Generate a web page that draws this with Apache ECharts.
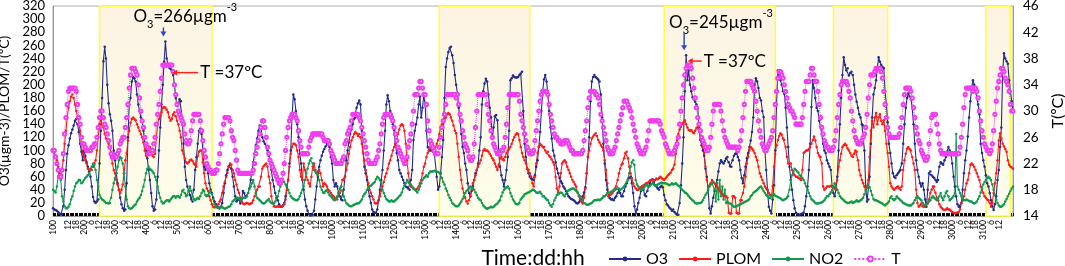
<!DOCTYPE html>
<html>
<head>
<meta charset="utf-8">
<script src="https://cdn.jsdelivr.net/npm/echarts@6/dist/echarts.min.js"></script>
<style>
  html, body { margin: 0; padding: 0; background: #fff; }
  #chart { width: 1065px; height: 266px; }
</style>
</head>
<body>
<div id="chart"></div>
<script>
// hourly readings, one row per day (1..31), hours 00..23
const days = [1,2,3,4,5,6,7,8,9,10,11,12,13,14,15,16,17,18,19,20,21,22,23,24,25,26,27,28,29,30,31];
const hours = [0,1,2,3,4,5,6,7,8,9,10,11,12,13,14,15,16,17,18,19,20,21,22,23];

// O3 (µg m-3)
const o3 = [
  [12,10,9,8,6,4,2,3,15,40,70,95,108,118,126,132,138,145,148,140,128,110,98,85],
  [100,92,82,75,68,60,45,29,22,20,22,25,80,130,180,236,258,240,200,172,155,145,130,100],
  [85,65,50,40,28,18,12,8,10,50,120,170,180,205,212,210,205,185,170,160,150,145,130,110],
  [100,88,70,55,35,15,8,10,25,60,100,135,170,200,235,266,240,230,226,224,222,215,200,180],
  [168,172,178,175,150,110,75,55,45,38,32,25,22,40,70,90,110,130,133,125,100,75,70,80],
  [65,50,40,35,28,22,18,15,13,12,14,20,35,50,62,70,76,78,72,60,45,30,22,25],
  [25,19,25,38,35,30,30,35,42,55,68,82,95,108,118,130,138,134,120,114,110,106,100,92],
  [85,70,55,45,35,28,24,18,14,14,16,20,30,45,55,80,100,150,185,178,160,140,120,95],
  [80,55,40,25,15,8,3,1,1,2,8,25,45,60,75,85,92,98,102,106,110,112,105,90],
  [80,55,45,50,45,35,30,25,24,40,60,85,100,112,125,132,140,148,150,165,172,176,170,130],
  [96,75,65,55,40,30,20,10,6,5,5,10,24,40,55,70,100,130,170,184,175,160,155,140],
  [131,110,96,85,70,65,60,55,50,45,44,42,40,55,70,116,130,140,150,170,182,150,165,185],
  [170,130,105,100,100,100,100,98,96,60,40,45,65,90,116,180,227,240,250,256,258,245,233,215],
  [200,187,165,146,125,105,96,80,70,50,35,30,38,45,55,65,70,80,100,120,170,190,202,209],
  [205,185,165,150,118,135,152,154,146,96,75,62,55,45,55,70,90,130,207,210,214,212,211,211],
  [212,215,217,220,160,110,90,72,65,60,57,56,55,62,75,85,105,128,160,190,208,215,205,185],
  [160,135,118,100,92,82,72,65,58,53,50,45,42,38,34,30,28,26,25,24,22,20,19,21],
  [24,26,30,36,44,65,90,120,175,205,212,215,212,210,208,205,185,150,110,80,55,40,30,27],
  [25,26,24,28,30,35,40,35,30,30,38,45,50,55,58,60,50,35,15,4,10,20,28,38],
  [45,40,32,30,38,45,50,55,56,52,47,45,42,40,44,46,44,32,24,18,16,13,11,8],
  [10,6,4,2,2,20,47,80,120,190,245,207,222,200,190,181,178,174,170,165,135,116,108,100],
  [92,72,60,40,12,4,15,28,38,48,55,68,80,85,82,80,84,88,90,82,76,75,85,92],
  [95,96,90,85,70,58,50,62,75,88,96,105,115,128,150,200,210,205,195,180,176,160,151,100],
  [70,40,14,8,4,25,47,100,170,222,215,207,200,190,186,165,135,105,75,55,40,24,12,5],
  [3,2,2,3,4,5,15,30,45,70,110,166,207,195,180,165,160,145,136,125,110,100,96,85],
  [80,75,70,45,35,30,40,60,100,140,180,215,242,230,222,225,214,218,220,215,200,185,174,165],
  [155,150,140,138,100,45,22,25,60,110,150,185,195,207,225,242,235,230,227,225,190,170,143,110],
  [96,80,65,60,58,62,65,68,70,80,110,140,165,180,187,182,178,165,140,110,85,70,60,50],
  [45,50,40,25,14,40,65,68,62,60,58,55,52,55,75,82,80,78,85,90,98,105,100,95],
  [80,60,45,30,18,14,14,20,40,65,85,100,121,150,175,195,207,200,190,180,170,155,110,96],
  [85,75,62,50,45,35,24,15,9,18,30,55,70,105,135,220,248,240,236,232,207,190,175,161]
].flat();

// PLOM
const plom = [
  [100,97,92,85,75,65,60,62,85,110,130,150,165,175,182,185,180,170,160,150,140,130,110,95],
  [90,85,80,72,70,72,70,75,80,85,100,120,140,148,140,135,125,118,116,110,105,95,80,70],
  [65,55,48,40,35,40,48,65,85,96,115,130,142,148,150,148,146,140,135,130,125,120,112,100],
  [92,95,100,105,98,92,90,95,120,140,148,152,158,165,166,165,162,158,150,145,148,155,158,152],
  [145,140,130,120,100,95,88,82,80,82,85,86,84,80,78,75,92,98,100,100,82,65,50,42],
  [38,30,24,18,14,13,14,15,18,22,25,35,45,52,60,66,75,80,78,70,65,55,48,40],
  [35,28,22,19,18,19,20,19,18,19,20,24,30,35,40,45,45,60,72,76,78,80,75,60],
  [50,30,20,15,14,14,15,14,15,14,16,18,25,40,55,75,95,105,110,110,108,100,90,70],
  [60,55,80,70,60,55,50,45,60,75,80,70,65,68,70,65,55,45,50,48,45,40,38,35],
  [32,30,28,26,25,30,35,45,55,55,60,70,80,95,105,115,120,125,128,126,122,125,120,110],
  [96,85,70,60,50,40,35,30,25,20,19,20,24,30,38,45,52,60,65,72,80,85,92,100],
  [105,110,116,125,132,138,140,138,130,110,85,65,50,45,44,42,40,40,42,45,50,55,65,75],
  [80,90,96,100,105,102,98,100,105,110,116,125,135,140,145,148,150,155,157,155,150,145,138,130],
  [126,110,90,70,55,42,35,28,22,19,24,30,40,50,55,62,70,75,80,85,92,100,102,100],
  [100,98,95,92,88,85,80,75,70,78,88,90,86,85,90,96,100,102,105,110,116,120,124,126],
  [125,116,105,96,90,85,80,72,70,65,60,50,45,60,80,96,105,110,108,105,105,100,96,98],
  [92,90,86,82,78,60,42,36,45,65,80,83,85,82,75,70,65,60,55,52,48,45,36,30],
  [25,22,19,28,42,65,90,100,110,118,121,124,126,122,116,112,108,105,100,85,70,50,30,32],
  [33,35,38,42,45,55,65,72,78,80,88,96,98,88,75,65,58,50,45,42,40,40,42,44],
  [45,47,48,50,50,52,54,55,55,53,55,57,56,58,60,58,56,55,57,60,62,64,66,70],
  [72,78,95,116,125,132,136,140,143,146,140,135,131,130,131,128,126,130,134,136,130,121,115,105],
  [96,75,55,45,45,50,55,52,50,48,45,42,38,35,33,30,30,30,28,5,4,4,30,30],
  [28,5,4,4,24,24,35,45,60,80,90,100,105,103,100,96,90,85,75,65,60,55,50,45],
  [42,40,35,32,30,45,75,95,108,116,122,126,124,118,116,105,90,80,80,80,70,65,62,60],
  [60,58,57,55,70,96,98,100,100,102,105,110,116,121,115,105,96,92,90,80,45,40,42,45],
  [45,45,46,45,44,42,40,55,75,85,95,105,108,110,108,103,100,96,92,90,95,100,98,85],
  [70,62,55,50,45,40,45,55,90,130,145,135,150,157,140,150,155,145,140,146,130,110,96,75],
  [50,45,42,40,42,44,45,42,40,45,70,85,95,103,105,102,100,90,80,70,40,20,14,16],
  [19,15,14,14,18,19,25,35,40,45,45,35,28,24,18,14,12,10,9,10,12,10,10,8],
  [6,5,4,5,5,6,10,19,24,30,40,50,55,65,78,80,78,75,70,65,60,55,45,40],
  [35,30,28,25,24,20,14,20,35,50,65,85,115,126,118,110,106,102,98,85,78,75,74,72]
].flat();

// NO2
const no2 = [
  [40,38,36,45,60,70,55,30,22,15,12,12,14,18,25,30,38,45,50,52,55,55,50,52],
  [55,58,60,62,65,70,75,80,78,70,55,45,32,28,25,24,22,20,20,19,20,28,40,50],
  [58,65,75,85,90,88,80,65,45,25,15,12,11,12,14,16,18,22,25,28,32,38,45,55],
  [65,72,75,72,70,68,65,60,55,45,35,28,22,19,20,22,24,24,22,25,28,30,30,28],
  [30,30,28,32,38,40,35,30,32,38,45,38,30,26,24,26,28,26,30,35,40,38,32,30],
  [32,36,38,34,26,18,15,13,12,12,13,14,12,11,12,13,14,15,18,22,24,26,28,28],
  [26,25,26,27,28,28,30,35,42,45,50,55,45,35,28,26,24,22,20,19,20,22,24,26],
  [22,20,19,19,22,26,30,38,45,52,55,52,48,45,40,35,30,28,26,25,24,24,26,30],
  [35,40,45,55,65,72,80,85,88,80,70,68,65,62,55,45,40,36,35,38,40,36,32,30],
  [28,25,24,26,30,35,42,45,38,30,24,20,18,16,15,15,16,17,18,19,19,20,22,25],
  [30,33,36,40,42,45,46,48,50,52,56,60,58,55,50,40,35,30,26,24,22,22,24,22],
  [22,24,26,28,30,32,36,42,46,50,55,52,50,48,45,42,40,38,36,40,45,50,55,58],
  [60,62,60,65,68,68,68,69,68,68,67,66,64,58,52,48,42,38,32,28,24,20,18,16],
  [15,15,16,19,22,26,30,35,38,40,42,45,44,42,40,36,32,28,25,24,20,16,14,12],
  [11,12,13,14,13,14,16,18,19,22,24,30,36,40,42,44,45,42,35,30,25,22,19,18],
  [18,20,25,28,30,33,34,35,36,37,38,40,40,38,36,35,36,37,34,30,30,28,25,24],
  [20,16,14,18,24,28,32,33,35,36,35,32,30,34,38,39,40,41,42,42,40,38,36,32],
  [30,28,24,20,19,17,17,18,19,20,22,24,24,24,25,24,25,27,30,30,32,35,35,36],
  [37,38,40,40,41,42,42,40,41,43,45,48,52,55,65,75,82,85,78,55,48,45,43,40],
  [40,42,45,48,47,45,46,48,50,48,46,47,48,49,50,51,50,50,50,49,48,47,48,50],
  [48,49,50,48,46,45,42,40,38,36,35,33,30,28,26,24,22,20,19,19,20,20,21,24],
  [28,32,35,40,45,48,50,52,40,22,50,25,55,30,45,25,40,20,22,20,19,18,16,14],
  [14,15,16,17,18,19,20,21,22,23,24,26,30,32,35,37,38,40,42,44,45,42,38,35],
  [32,30,28,27,30,32,33,31,30,29,28,27,25,24,25,26,28,30,40,55,62,68,72,70],
  [68,66,62,60,58,55,50,45,40,35,30,26,24,22,20,19,19,20,20,21,22,24,27,30],
  [30,33,36,40,45,50,45,40,35,30,28,26,24,22,21,20,20,21,22,20,21,22,24,22],
  [22,24,25,28,33,38,43,45,44,38,32,26,24,24,23,22,21,20,19,17,16,18,20,22],
  [28,30,26,24,26,30,28,26,24,22,20,19,18,17,16,16,16,18,20,24,28,30,28,26],
  [24,20,17,16,18,20,22,24,28,30,28,26,24,26,30,35,28,24,30,36,38,30,24,26],
  [28,30,35,125,45,40,35,30,26,24,24,25,24,23,22,22,20,19,20,22,26,30,36,42],
  [48,52,55,58,60,58,55,48,40,32,25,20,16,14,14,16,18,22,26,30,34,38,42,45]
].flat();

// T (ºC), right axis
const temp = [
  [24,24,23,22,21,20,20,21,23.5,26.5,29,31,33,33.5,33.5,33.5,33.5,33.5,33,31,29,28,26,25],
  [25,24.5,24,24,24,24,24.5,24.5,25,25,26,27.5,29,30,30,29,28,27.5,26.5,25.5,24.5,23.5,23,23],
  [23,23,23.5,24,25,25.5,26,26,27.5,29,31,33.5,35.5,36.5,36.5,36.5,36,35.5,34,32,30,28.5,27.5,26],
  [25,24.5,23.5,23.5,24,24,25,26,28,29.5,31,33,35,37,37,37,37,37,37,37,37,36,34,32.5],
  [31,30,29.5,29,28.5,28,26.5,25.5,25,25,25.5,27,28.5,29.5,29.5,29.5,29.5,29.5,28.5,27,25.5,24,23,22],
  [21.5,21,21,20.5,20.5,20.5,21,21,22,23.5,25,26.5,28,29,29,29,29,28.5,27,26,25.5,24,22.5,21],
  [20.5,20.5,20.5,20.5,20.5,20.5,20.5,20.5,20.5,20.5,20.5,21,22,23.5,24.5,25.5,26.5,27.5,28.5,28.5,27.5,26,24.5,23.5],
  [22.5,22,21.5,21,20.5,20,19.5,19,19,19.5,20.5,22,24,26,27.5,28.5,29,29.5,29.5,29.5,29,28.5,27,25.5],
  [24.5,23.5,23.5,23.5,23.5,23.5,24.5,25.5,26,26.5,26.5,26.5,26.5,26.5,26.5,26.5,26.5,26,25.5,25.5,25.5,25.5,25,24],
  [23.5,23,22.5,22,22,22,22,22,22.5,23,25,25.5,26.5,27,27.5,28.5,29.5,29.5,29.5,29.5,29.5,29,28.5,27.5],
  [26.5,25.5,24.5,23.5,22.5,22,22,22,22,22,22.5,23,24,25,26.5,28,29,29.5,29.5,29.5,29.5,29.5,29,28.5],
  [27.5,26.5,25.5,24.5,24,23.5,23,22.5,22,22,23,24.5,25.5,26.5,28,30,32.5,32.5,32.5,33.5,34.5,34.5,33.5,32.5],
  [32.5,31,28.5,27,25.5,25,24.5,24,23.5,23.5,23.5,24.5,26,27.5,28.5,29.5,31,32.5,32.5,32.5,32.5,32.5,32.5,32.5],
  [32,32.5,31,29.5,28.5,27,26,25,24.5,24,23,22.5,22.5,23,25,27.5,30,32.5,32.5,32.5,32.5,32.5,32.5,32.5],
  [31,29.5,28.5,27,26,25,24.5,24,23.5,23.5,23.5,24,24,24.5,26,28,30.5,32.5,32.5,32.5,32.5,32.5,32.5,32.5],
  [32.5,31.5,29.5,28.5,27.5,26.5,25.5,24.5,24,23.5,23.5,23.5,24,25.5,27,28.5,30,31.5,32.5,33,33,33,33,32.5],
  [31,29.5,28.5,27.5,26.5,26,26,25.5,25.5,25,25,25,25.5,25.5,25.5,25,24.5,24,24,23.5,23.5,23.5,23.5,23.5],
  [23.5,23.5,24,25.5,27,28.5,30.5,32,33,33,33,33,32.5,32.5,32,31,29.5,28.5,27.5,26.5,25.5,24.5,24,23.5],
  [23.5,23.5,24,24.5,25.5,26.5,27.5,28.5,29.5,30.5,31.5,31.5,31.5,31,30.5,30,29,28,27,26,25,24.5,24,23.5],
  [23.5,23.5,24,24.5,25.5,27,28.5,28.5,28.5,28.5,28.5,28.5,28.5,28.5,28,27,26.5,26,25,24.5,24,23.5,23.5,23.5],
  [23.5,24,24.5,25,26,28,30,32,34,35.5,36.5,37,37,37,36.5,35,33.5,32,30.5,29,28,27,26,25.5],
  [25,24.5,24,24,24.5,26,28,30,31,31,31,31,31,30,28.5,27,26,25.5,25,24.5,24.5,24.5,24.5,24.5],
  [24.5,24.5,24,24.5,25.5,27,29,31,33,34.5,34.5,34.5,34.5,34,33.5,33,31.5,30,28.5,27,26,25,24.5,24],
  [24,24.5,25,25.5,26,27,29,31,33,35,36,36,35.5,35,34,33,32,31,30.5,30,30,29.5,29,28],
  [28,28,28,28,29,31,33,34.5,34.5,34.5,35.5,36.5,36.5,35.5,34.5,34.5,33,31,29,27.5,26.5,25.5,25,24.5],
  [24.5,24,24,24,24.5,25.5,27,29,31,32.5,34,34.5,34.5,34.5,34.5,34,33,32,30,28.5,27,26,25.5,25],
  [25,25,25.5,26,26.5,27.5,29.5,32,34,35.5,35.5,35.5,36,36.5,36.5,36.5,36.5,36,35,33,31,29,27.5,26.5],
  [26,26,26,26,26,26,26,26.5,27.5,29,31,32.5,33.5,33.5,33.5,33.5,33,32,30.5,29,27.5,26.5,25.5,25],
  [24,23.5,23,22.5,22.5,23,25,27,29,29.5,29.5,29.5,28,26.5,25,24,23.5,23.5,23.5,23.5,23.5,23.5,23.5,23.5],
  [23.5,23.5,23.5,23.5,23.5,23.5,24.5,26,28,30.5,32.5,33.5,33.5,33.5,33.5,33.5,33,33.5,33.5,33,32,30,28.5,27],
  [26,25,24.5,24,24,23.5,24,25,27,29.5,31.5,33.5,34.5,35.5,36.5,36.5,36,35,34.5,34,33,31,30,30]
].flat();

// shaded episodes [from, to] as dd:hh
const episodes = [['2:12','6:03'], ['13:11','16:09'], ['20:17','24:07'], ['26:04','27:22'], ['31:02','31:21']];

// annotated peaks: O3 maximum and the T = 37 ºC point next to it
const peaks = [
  { o3At: '4:15', tAt: '4:21', o3Text: '266', tText: '37' },
  { o3At: '21:10', tAt: '21:12', o3Text: '245', tText: '37' }
];

const categories = [];
days.forEach(d => hours.forEach(h => categories.push(d + ':' + String(h).padStart(2, '0'))));

const FONT = 'Lato';
const chart = echarts.init(document.getElementById('chart'));

const shade = new echarts.graphic.LinearGradient(0, 0, 0, 1, [
  { offset: 0, color: '#fcf3e3' },
  { offset: 1, color: '#fefeea' }
]);

const option = {
  animation: false,
  backgroundColor: '#fff',
  grid: {
    left: 53, right: 52, top: 6, bottom: 50,
    outerBoundsMode: 'none',
    show: true, borderColor: '#b0b0b0', borderWidth: 1
  },
  legend: {
    left: 603, top: 246,
    itemWidth: 32, itemHeight: 6, itemGap: 10,
    textStyle: { fontFamily: FONT, fontSize: 16, color: '#000' },
    data: ['O3', 'PLOM', 'NO2', 'T']
  },
  xAxis: {
    type: 'category',
    data: categories,
    boundaryGap: false,
    name: 'Time:dd:hh',
    nameLocation: 'middle',
    nameGap: 29,
    nameTextStyle: { fontFamily: FONT, fontSize: 21, color: '#000' },
    axisLine: { lineStyle: { color: '#999' } },
    axisTick: { show: true, interval: 0, inside: true, length: 3, lineStyle: { color: '#000', width: 1 } },
    axisLabel: {
      interval: 5, rotate: 90, margin: 4, showMinLabel: true, hideOverlap: false,
      fontFamily: FONT, fontSize: 8.5, color: '#000',
      formatter: v => {
        const [d, h] = v.split(':');
        return h === '00' ? d + '00' : String(+h);
      }
    },
    splitLine: { show: false }
  },
  yAxis: [
    {
      type: 'value', min: 0, max: 320, interval: 20,
      name: 'O3(µgm-3)/PLOM/T(ºC)',
      nameLocation: 'middle', nameGap: 37,
      nameTextStyle: { fontFamily: FONT, fontSize: 14, color: '#000' },
      axisLine: { show: true, lineStyle: { color: '#999' } },
      axisTick: { show: false },
      axisLabel: {
        fontFamily: FONT, fontSize: 13, lineHeight: 12, color: '#000', margin: 8,
        showMinLabel: true, showMaxLabel: true, hideOverlap: false
      },
      splitLine: { show: false }
    },
    {
      type: 'value', min: 14, max: 46, interval: 4,
      name: 'T(ºC)',
      nameLocation: 'middle', nameGap: 37,
      nameTextStyle: { fontFamily: FONT, fontSize: 16, color: '#000' },
      axisLine: { show: true, lineStyle: { color: '#999' } },
      axisTick: { show: false },
      axisLabel: {
        fontFamily: FONT, fontSize: 13.5, color: '#000', margin: 10,
        showMinLabel: true, showMaxLabel: true, hideOverlap: false
      },
      splitLine: { show: false }
    }
  ],
  series: [
    {
      name: 'O3', type: 'line', data: o3,
      color: '#232b8c',
      lineStyle: { width: 1.1 },
      symbol: 'circle', symbolSize: 2.5, showAllSymbol: true,
      markArea: {
        silent: true,
        itemStyle: { color: shade, borderColor: '#ffff33', borderWidth: 1.5 },
        data: episodes.map(([a, b]) => [{ xAxis: a }, { xAxis: b }])
      }
    },
    {
      name: 'PLOM', type: 'line', data: plom,
      color: '#ff1a1a',
      lineStyle: { width: 1.1 },
      symbol: 'circle', symbolSize: 2.5, showAllSymbol: true
    },
    {
      name: 'NO2', type: 'line', data: no2,
      color: '#119a4c',
      lineStyle: { width: 1.1 },
      symbol: 'circle', symbolSize: 2.5, showAllSymbol: true
    },
    {
      name: 'T', type: 'line', data: temp, yAxisIndex: 1,
      color: '#f23cf2',
      lineStyle: { width: 1, type: 'dotted' },
      symbol: 'emptyCircle', symbolSize: 3.2, showAllSymbol: true,
      itemStyle: { borderWidth: 0.7 }
    }
  ]
};

chart.setOption(option);

// annotations: arrows and labels anchored on the peak points
const txt = (text, x, y) => ({
  type: 'text', z: 100,
  style: {
    text, x, y, verticalAlign: 'middle', align: 'left',
    rich: {
      n: { fontFamily: FONT, fontSize: 17, fill: '#000', lineHeight: 20 },
      s: { fontFamily: FONT, fontSize: 11, fill: '#000', lineHeight: 20, verticalAlign: 'bottom', padding: [0, 0, -4, 0] },
      p: { fontFamily: FONT, fontSize: 11, fill: '#000', lineHeight: 20, verticalAlign: 'top', padding: [-4, 0, 0, 0] }
    }
  }
});

const notes = [
  { textDx: -32, textDy: -25, tailLen: 26, tDy: 1 },
  { textDx: -17, textDy: -33, tailLen: 14, tDy: -4 }
];

const graphics = [];
peaks.forEach((p, i) => {
  const n = notes[i];
  const oi = categories.indexOf(p.o3At);
  const ti = categories.indexOf(p.tAt);
  const po = chart.convertToPixel({ xAxisIndex: 0, yAxisIndex: 0 }, [oi, o3[oi]]);
  const pt = chart.convertToPixel({ xAxisIndex: 0, yAxisIndex: 1 }, [ti, temp[ti]]);
  const ax = po[0] - 2;
  const topY = po[1] + n.textDy + 11;
  const tipY = po[1] - 5;
  graphics.push(txt('{n|O}{s|3}{n|=' + p.o3Text + 'µgm}{p|-3}', po[0] + n.textDx, po[1] + n.textDy));
  graphics.push({ type: 'line', z: 100, shape: { x1: ax, y1: topY, x2: ax, y2: tipY - 4 }, style: { stroke: '#2a4bd0', lineWidth: 1.5 } });
  graphics.push({ type: 'polygon', z: 100, shape: { points: [[ax - 3, tipY - 5], [ax + 3, tipY - 5], [ax, tipY]] }, style: { fill: '#2a4bd0' } });
  const ty = pt[1] + n.tDy;
  const tx = pt[0] - 1;
  graphics.push({ type: 'line', z: 100, shape: { x1: tx + 4, y1: ty, x2: tx + n.tailLen, y2: ty }, style: { stroke: '#ff2020', lineWidth: 1.5 } });
  graphics.push({ type: 'polygon', z: 100, shape: { points: [[tx + 5, ty - 3], [tx + 5, ty + 3], [tx, ty]] }, style: { fill: '#ff2020' } });
  graphics.push(txt('{n|T =' + p.tText + 'ºC}', tx + n.tailLen + 2, ty));
});
chart.setOption({ graphic: graphics });
</script>
</body>
</html>
